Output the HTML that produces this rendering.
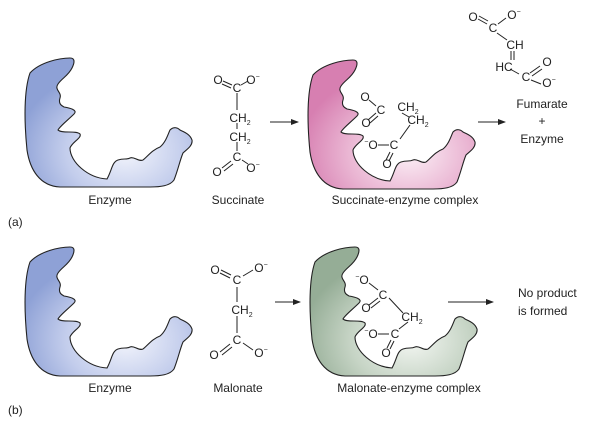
<!DOCTYPE html>
<html><head><style>body{margin:0;background:#fff}svg{display:block}</style></head><body>
<svg width="600" height="433" viewBox="0 0 600 433" xmlns="http://www.w3.org/2000/svg" font-family="Liberation Sans, sans-serif">
<defs>
<radialGradient id="gb" cx="0.6" cy="0.72" r="0.65"><stop offset="0" stop-color="#f3f5fc"/><stop offset="0.55" stop-color="#c3cdec"/><stop offset="1" stop-color="#8ea1d6"/></radialGradient>
<radialGradient id="gp" cx="0.6" cy="0.72" r="0.65"><stop offset="0" stop-color="#fcf1f7"/><stop offset="0.55" stop-color="#eab6d3"/><stop offset="1" stop-color="#d77fb1"/></radialGradient>
<radialGradient id="gg" cx="0.6" cy="0.72" r="0.65"><stop offset="0" stop-color="#f4f7f3"/><stop offset="0.55" stop-color="#c6d4c5"/><stop offset="1" stop-color="#95ad96"/></radialGradient>
<path id="enz" d="M30,73 C40,62 60,58 70,58 C76,58 74,64 72,68 C68,76 62,78 58,84 C54,90 62,92 60,98 C58,104 62,106 64,107 C70,108 78,110 74,114 C68,120 60,126 58,130 C62,134 76,130 80,134 C82,138 72,142 70,148 C70,162 88,178 107,179 C112,170 112,162 118,160 C124,158 126,160 130,158 C134,156 138,162 143,160 C148,156 152,150 160,147 C166,142 168,134 170,130 C174,126 178,128 180,130 C184,132 190,134 192,140 C193,146 186,150 183,153 C180,160 178,170 174,180 C170,186 160,187 150,187 L60,187 C40,186 30,170 27,150 C24,120 24,90 30,73 Z"/>
<marker id="ah" markerWidth="8" markerHeight="8" refX="7" refY="4" orient="auto"><path d="M0,1 L8,4 L0,7 Z" fill="#222"/></marker>
</defs>
<g stroke="#222" stroke-width="1.1">
<use href="#enz" fill="url(#gb)"/>
<use href="#enz" fill="url(#gb)" transform="translate(0,189)"/>
<use href="#enz" fill="url(#gp)" transform="translate(283,2)"/>
<use href="#enz" fill="url(#gg)" transform="translate(285,189)"/>
</g>
<g stroke="#222" stroke-width="1" fill="none">
<line x1="270" y1="122" x2="298" y2="122" marker-end="url(#ah)"/>
<line x1="478" y1="122" x2="505" y2="122" marker-end="url(#ah)"/>
<line x1="275" y1="302" x2="300" y2="302" marker-end="url(#ah)"/>
<line x1="448" y1="302" x2="493" y2="302" marker-end="url(#ah)"/>
<path d="M223,81 L232,85 M222,84 L231,88 M241,85 L248,81 M237,93 L237,110 M237,123 L237,129 M237,142 L237,151 M222,168 L231,161 M224,171 L233,164 M242,160 L248,164"/>
<path d="M221,270 L231,275 M220,273 L230,278 M243,276 L253,270 M237,287 L237,302 M237,316 L237,333 M220,352 L230,344 M222,355 L232,347 M243,343 L253,350"/>
<path d="M479,16 L488,21 M478,19 L487,24 M498,24 L506,18 M497,33 L507,40 M511,51 L511,60 M514,51 L514,60 M510,69 L519,74 M530,73 L540,66 M532,76 L542,69 M531,80 L541,84"/>
<path d="M369,100 L376,106 M368,120 L376,113 M370,123 L378,116 M402,113 L409,117 M410,125 L400,139 M378,145 L389,145 M390,152 L386,160 M393,153 L389,161"/>
<path d="M369,283 L378,290 M369,305 L378,298 M371,308 L380,301 M389,298 L403,313 M408,322 L399,329 M378,334 L389,334 M391,340 L387,348 M394,341 L390,349"/>
</g>
<g font-size="12" fill="#222" text-anchor="middle">
<text x="218" y="84">O</text><text x="237" y="92">C</text><text x="253" y="84">O<tspan font-size="7" dy="-5">−</tspan></text>
<text x="240" y="122">CH<tspan font-size="7" dy="3">2</tspan></text>
<text x="240" y="141">CH<tspan font-size="7" dy="3">2</tspan></text>
<text x="237" y="161">C</text><text x="217" y="176">O</text><text x="253" y="172">O<tspan font-size="7" dy="-5">−</tspan></text>

<text x="215" y="274">O</text><text x="237" y="284">C</text><text x="261" y="272">O<tspan font-size="7" dy="-5">−</tspan></text>
<text x="242" y="314">CH<tspan font-size="7" dy="3">2</tspan></text>
<text x="237" y="344">C</text><text x="214" y="359">O</text><text x="261" y="357">O<tspan font-size="7" dy="-5">−</tspan></text>

<text x="473" y="21">O</text><text x="493" y="32">C</text><text x="514" y="19">O<tspan font-size="7" dy="-5">−</tspan></text>
<text x="515" y="49">CH</text><text x="504" y="71">HC</text><text x="526" y="81">C</text><text x="547" y="66">O</text><text x="549" y="87">O<tspan font-size="7" dy="-5">−</tspan></text>

<text x="365" y="101">O</text><text x="381" y="114">C</text><text x="366" y="127">O</text>
<text x="408" y="111">CH<tspan font-size="7" dy="3">2</tspan></text>
<text x="418" y="124">CH<tspan font-size="7" dy="3">2</tspan></text>
<text x="371" y="149"><tspan font-size="7" dy="-5">−</tspan><tspan dy="5">O</tspan></text><text x="394" y="149">C</text><text x="387" y="168">O</text>

<text x="362" y="284"><tspan font-size="7" dy="-5">−</tspan><tspan dy="5">O</tspan></text><text x="383" y="299">C</text><text x="366" y="312">O</text>
<text x="412" y="321">CH<tspan font-size="7" dy="3">2</tspan></text>
<text x="371" y="338"><tspan font-size="7" dy="-5">−</tspan><tspan dy="5">O</tspan></text><text x="395" y="338">C</text><text x="386" y="357">O</text>
</g>
<g font-size="12" fill="#222" text-anchor="middle">
<text x="110" y="204">Enzyme</text>
<text x="238" y="204">Succinate</text>
<text x="405" y="204">Succinate-enzyme complex</text>
<text x="542" y="108">Fumarate</text>
<text x="542" y="125">+</text>
<text x="542" y="143">Enzyme</text>
<text x="110" y="392">Enzyme</text>
<text x="238" y="392">Malonate</text>
<text x="409" y="392">Malonate-enzyme complex</text>
</g>
<g font-size="12" fill="#222">
<text x="518" y="297">No product</text>
<text x="518" y="315">is formed</text>
<text x="8" y="226">(a)</text>
<text x="8" y="414">(b)</text>
</g>
</svg>
</body></html>
